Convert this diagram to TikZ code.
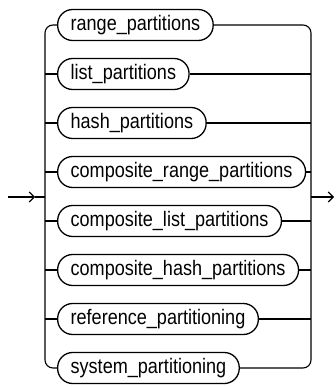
\documentclass[tikz,border=0pt]{standalone}
\usepackage{fontspec}
\setmainfont{Liberation Sans}[FakeStretch=0.86]
\usetikzlibrary{arrows.meta}
\begin{document}
\begin{tikzpicture}[x=1pt,y=-1pt,
  term/.style={draw, line width=1.3pt, rounded corners=15pt, minimum height=31pt,
    inner xsep=13pt, inner ysep=0pt, anchor=west, font=\fontsize{21}{24}\selectfont},
  wire/.style={line width=1.1pt},
  tip/.style={-{Straight Barb[length=5pt,width=10pt]}}]
\useasboundingbox (0,0) rectangle (336,387);
\node[term] (r1) at (57,25)  {range\_partitions};
\node[term] (r2) at (57,74)  {list\_partitions};
\node[term] (r3) at (57,123) {hash\_partitions};
\node[term] (r4) at (57,172) {composite\_range\_partitions};
\node[term] (r5) at (57,221) {composite\_list\_partitions};
\node[term] (r6) at (57,270) {composite\_hash\_partitions};
\node[term] (r7) at (57,319) {reference\_partitioning};
\node[term] (r8) at (57,368) {system\_partitioning};
\coordinate (lj) at (45,197);
\coordinate (rj) at (311,197);
\coordinate (in) at (8,197);
\coordinate (inm) at (35,197);
\coordinate (out) at (334,197);
\draw[wire, rounded corners=8pt] (r1.west) -| (lj) |- (r8.west);
\draw[wire, rounded corners=8pt] (r1.east) -| (rj) |- (r8.east);
\foreach \k in {r2,r3,r4,r5,r6,r7}{
  \draw[wire] (\k.west) -- (\k.west -| lj);
  \draw[wire] (\k.east) -- (\k.east -| rj);
}
\draw[wire,tip] (in) -- (inm);
\draw[wire] (inm) -- (lj);
\draw[wire,tip] (rj) -- (out);
\end{tikzpicture}
\end{document}
